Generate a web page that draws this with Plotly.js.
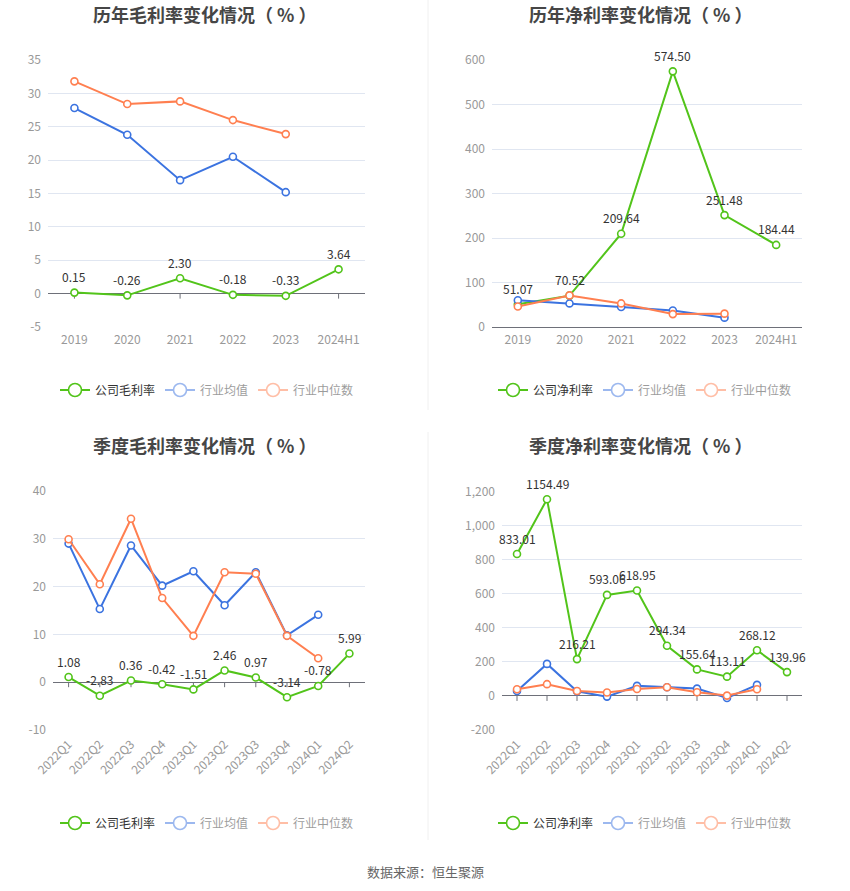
<!DOCTYPE html>
<html>
<head>
<meta charset="utf-8">
<script src="https://cdn.plot.ly/plotly-3.0.1.min.js"></script>
<style>html,body{margin:0;padding:0;background:#fff;}#chart{width:850px;height:891px;}</style>
</head>
<body>
<div id="chart"></div>
<script>
// ---- data ----
const years = ['2019','2020','2021','2022','2023','2024H1'];
const grossCompany = [0.15,-0.26,2.30,-0.18,-0.33,3.64];
const grossAvg = [27.8,23.8,17.0,20.5,15.2];
const grossMedian = [31.8,28.4,28.8,26.0,23.9];

const netCompany = [51.07,70.52,209.64,574.50,251.48,184.44];
const netAvg = [60,53,45,37,21];
const netMedian = [46,71,53,29,30];

const quarters = ['2022Q1','2022Q2','2022Q3','2022Q4','2023Q1','2023Q2','2023Q3','2023Q4','2024Q1','2024Q2'];
const qGrossCompany = [1.08,-2.83,0.36,-0.42,-1.51,2.46,0.97,-3.14,-0.78,5.99];
const qGrossAvg = [29.0,15.3,28.6,20.2,23.2,16.1,23.0,9.8,14.1];
const qGrossMedian = [29.9,20.5,34.2,17.6,9.7,23.0,22.7,9.7,5.0];

const qNetCompany = [833.01,1154.49,216.21,593.06,618.95,294.34,155.64,113.11,268.12,139.96];
const qNetAvg = [29,188,27,-4,59,51,43,-12,65];
const qNetMedian = [39,69,29,20,41,51,22,2,39];

const titles = ['历年毛利率变化情况（ % ）','历年净利率变化情况（ % ）','季度毛利率变化情况（ % ）','季度净利率变化情况（ % ）'];
const companyNames = ['公司毛利率','公司净利率','公司毛利率','公司净利率'];
const avgName = '行业均值';
const medianName = '行业中位数';
const sourceText = '数据来源：恒生聚源';

const yTicks1 = [-5,0,5,10,15,20,25,30,35];
const yTicks2 = [0,100,200,300,400,500,600];
const yTicks3 = [-10,0,10,20,30,40];
const yTicks4 = [-200,0,200,400,600,800,1000,1200];

// ---- style ----
const GREEN = '#52c41a', BLUE = '#3b73e0', ORANGE = '#ff7f50';
const FONT = '"Noto Sans CJK SC", "Noto Sans", sans-serif';
const W = 850, H = 891;
const px = v => v / W;
const py = v => 1 - v / H;

const panels = [
  {cats: years, company: grossCompany, avg: grossAvg, median: grossMedian, ticks: yTicks1,
   xd: [48, 365], yd: [327, 60], range: [-5, 35], tickangle: 0, titleX: 205, titleY: 14, legX: 207, legY: 390},
  {cats: years, company: netCompany, avg: netAvg, median: netMedian, ticks: yTicks2,
   xd: [492, 802], yd: [327, 60], range: [0, 600], tickangle: 0, titleX: 641, titleY: 14, legX: 645, legY: 390},
  {cats: quarters, company: qGrossCompany, avg: qGrossAvg, median: qGrossMedian, ticks: yTicks3,
   xd: [53, 365], yd: [730, 491], range: [-10, 40], tickangle: -45, titleX: 205, titleY: 445, legX: 207, legY: 823},
  {cats: quarters, company: qNetCompany, avg: qNetAvg, median: qNetMedian, ticks: yTicks4,
   xd: [502, 802], yd: [730, 491.5], range: [-200, 1200], tickangle: -45, titleX: 641, titleY: 445, legX: 645, legY: 823}
];

const fmtTick = v => {
  const s = Math.abs(v).toString().replace(/\B(?=(\d{3})+(?!\d))/g, ',');
  return (v < 0 ? '-' : '') + s;
};

const traces = [];
const annotations = [];
const shapes = [];
const layout = {
  width: W, height: H,
  margin: {l: 0, r: 0, t: 0, b: 0},
  paper_bgcolor: '#fff', plot_bgcolor: '#fff',
  font: {family: FONT, color: '#999', size: 12},
  showlegend: true,
  hovermode: false
};

panels.forEach((p, i) => {
  const n = i + 1;
  const xa = n === 1 ? 'x' : 'x' + n;
  const ya = n === 1 ? 'y' : 'y' + n;
  const legendId = n === 1 ? 'legend' : 'legend' + n;
  // marker size array with sizeref: ~7px in the plot, 13px in the legend
  const mk = (c, len) => ({symbol: 'circle', size: new Array(len).fill(13), sizeref: 13 / 7, sizemode: 'diameter',
    opacity: 1, color: '#ffffff', line: {color: c, width: 1.6}});

  const series = [
    {y: p.company, c: GREEN, name: '<span style="color:#333">' + companyNames[i] + '</span>', faded: false},
    {y: p.avg, c: BLUE, name: '<span style="color:#3a3a3a">' + avgName + '</span>', faded: true},
    {y: p.median, c: ORANGE, name: '<span style="color:#3a3a3a">' + medianName + '</span>', faded: true}
  ];
  series.forEach(s => {
    const base = {x: p.cats.slice(0, s.y.length), y: s.y, xaxis: xa, yaxis: ya, type: 'scatter', mode: 'lines+markers',
      line: {color: s.c, width: 2}, marker: mk(s.c, s.y.length), cliponaxis: false, name: s.name, legend: legendId};
    if (s.faded) {
      traces.push(Object.assign({}, base, {showlegend: false}));
      traces.push(Object.assign({}, base, {visible: 'legendonly'}));
    } else {
      traces.push(base);
    }
  });

  layout['xaxis' + (n === 1 ? '' : n)] = {
    domain: [px(p.xd[0]), px(p.xd[1])], anchor: ya, type: 'category',
    range: [-0.5, p.cats.length - 0.5], showgrid: false, zeroline: false, showline: false,
    ticks: '', tickangle: p.tickangle, tickfont: {size: 12, color: '#999'},
    ticklabelstandoff: 4, fixedrange: true
  };
  layout['yaxis' + (n === 1 ? '' : n)] = {
    domain: [py(p.yd[0]), py(p.yd[1])], anchor: xa, range: p.range,
    tickvals: p.ticks, ticktext: p.ticks.map(fmtTick),
    showgrid: true, gridcolor: '#e0e6f1', gridwidth: 1,
    zeroline: true, zerolinecolor: '#6e7079', zerolinewidth: 1,
    showline: false, ticks: '', tickfont: {size: 12, color: '#999'},
    ticklabelstandoff: 6, fixedrange: true
  };
  layout[legendId] = {
    orientation: 'h', x: px(p.legX), xanchor: 'center', y: py(p.legY), yanchor: 'middle',
    font: {size: 12, color: '#999', family: FONT}, itemsizing: 'trace', bgcolor: 'rgba(0,0,0,0)',
    itemclick: false, itemdoubleclick: false
  };

  // company value labels
  p.company.forEach((v, k) => {
    annotations.push({xref: xa, yref: ya, x: k, y: v, text: v.toFixed(2), showarrow: false,
      yshift: 16, font: {size: 12, color: '#333', family: FONT}});
  });
  // tick marks on the zero axis line
  p.cats.forEach((c, k) => {
    shapes.push({type: 'line', xref: xa, yref: ya, x0: k, x1: k, ysizemode: 'pixel', yanchor: 0,
      y0: 0, y1: -5, line: {color: '#6e7079', width: 1}, layer: 'below'});
  });
  // panel title
  annotations.push({xref: 'paper', yref: 'paper', x: px(p.titleX), y: py(p.titleY), xanchor: 'center', yanchor: 'middle',
    text: '<b>' + titles[i] + '</b>', showarrow: false, font: {size: 18, color: '#464646', family: FONT}});
});

// separator and source
shapes.push({type: 'line', xref: 'paper', yref: 'paper', x0: px(428), x1: px(428), y0: py(0), y1: py(410),
  line: {color: '#f0f0f0', width: 1}});
shapes.push({type: 'line', xref: 'paper', yref: 'paper', x0: px(428), x1: px(428), y0: py(432), y1: py(840),
  line: {color: '#f0f0f0', width: 1}});
annotations.push({xref: 'paper', yref: 'paper', x: px(425), y: py(871), xanchor: 'center', yanchor: 'middle',
  text: sourceText, showarrow: false, font: {size: 13, color: '#666', family: FONT}});

layout.annotations = annotations;
layout.shapes = shapes;

Plotly.newPlot('chart', traces, layout, {displayModeBar: false, staticPlot: true});
</script>
</body>
</html>
